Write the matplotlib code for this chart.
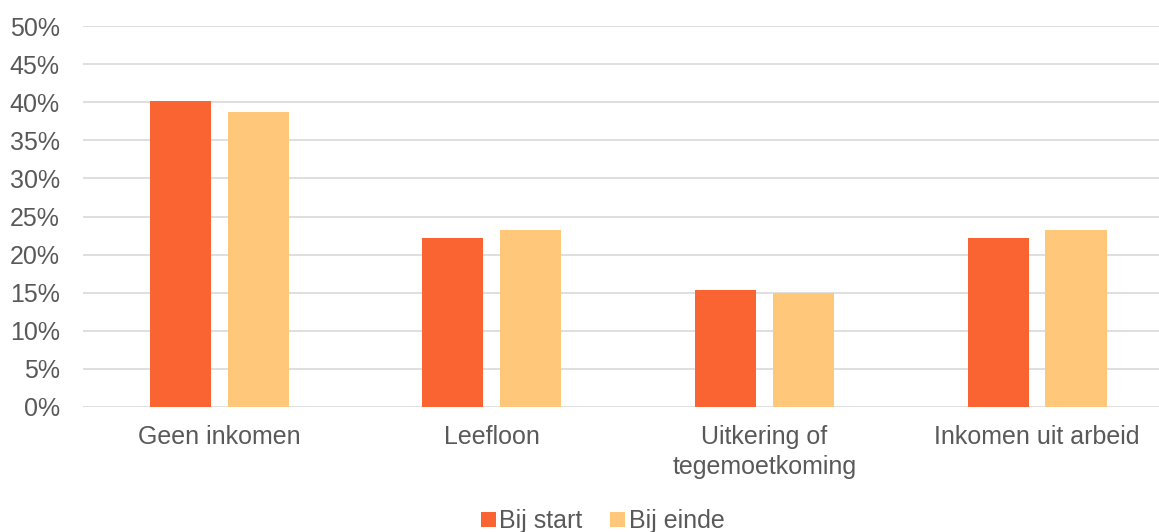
import matplotlib
matplotlib.use("Agg")
import matplotlib.pyplot as plt
import numpy as np
from matplotlib.ticker import PercentFormatter

plt.rcParams['font.family'] = ['Liberation Sans', 'DejaVu Sans']

categories = ["Geen inkomen", "Leefloon", "Uitkering of\ntegemoetkoming", "Inkomen uit arbeid"]
bij_start = [40.2, 22.2, 15.35, 22.2]
bij_einde = [38.7, 23.2, 14.95, 23.2]

c_start = "#fa6432"
c_einde = "#fec77a"
txt = "#595959"

fig = plt.figure(figsize=(11.59, 5.32), dpi=100)
# plot area runs a little past the right edge, as in the reference
ax = fig.add_axes([0.0714, 0.235, 0.941, 0.716])

x = np.arange(len(categories))
w = 0.224
gap = 0.062
ax.bar(x - (w + gap) / 2, bij_start, w, color=c_start, label="Bij start", zorder=3)
ax.bar(x + (w + gap) / 2, bij_einde, w, color=c_einde, label="Bij einde", zorder=3)

ax.set_xlim(-0.5, len(categories) - 0.5)
ax.set_ylim(0, 50)
ax.set_yticks(np.arange(0, 51, 5))
ax.yaxis.set_major_formatter(PercentFormatter(decimals=0))
ax.set_xticks(x)
ax.set_xticklabels(categories, linespacing=1.3)
ax.grid(axis='y', color="#d9d9d9", linewidth=1.2, zorder=0)
for s in ax.spines.values():
    s.set_visible(False)
ax.tick_params(axis='both', length=0, labelsize=18, labelcolor=txt)
ax.tick_params(axis='x', pad=13)
ax.tick_params(axis='y', pad=16.5)

fig.legend(*ax.get_legend_handles_labels(), loc='center', bbox_to_anchor=(0.52, 0.02),
           ncol=2, frameon=False, fontsize=18, labelcolor=txt,
           handlelength=0.6, handleheight=0.6, handletextpad=0.15,
           columnspacing=1.1, borderpad=0)

fig.savefig("out.png", dpi=100)
